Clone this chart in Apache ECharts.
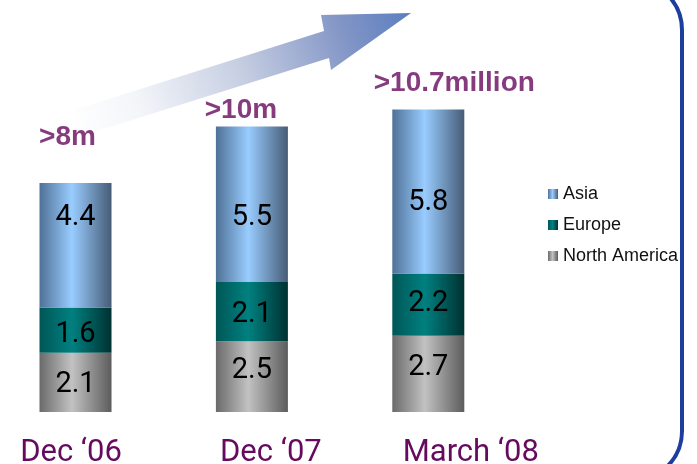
<!DOCTYPE html>
<html>
<head>
<meta charset="utf-8">
<script src="https://cdn.jsdelivr.net/npm/echarts@6/dist/echarts.min.js"></script>
<style>
html,body{margin:0;padding:0;background:#fff;}
#chart{width:697px;height:464px;}
</style>
</head>
<body>
<div id="chart"></div>
<script>
// ---- data ----
const categories = ['Dec \u201806', 'Dec \u201807', 'March \u201808'];
const northAmerica = [2.1, 2.5, 2.7];
const europe = [1.6, 2.1, 2.2];
const asia = [4.4, 5.5, 5.8];
const topLabels = ['>8m', '>10m', '>10.7million'];
const seriesNames = ['Asia', 'Europe', 'North America'];

const totals = categories.map((c, i) => northAmerica[i] + europe[i] + asia[i]);

const NARROW = 'Roboto, "Liberation Sans", sans-serif';
const SANS = '"Liberation Sans", Arial, sans-serif';
const PURPLE = '#660a5e';

function hGrad(c0, c1, c2) {
  return {
    type: 'linear', x: 0, y: 0, x2: 1, y2: 0,
    colorStops: [
      { offset: 0, color: c0 },
      { offset: 0.45, color: c1 },
      { offset: 1, color: c2 }
    ]
  };
}

const asiaColor = hGrad('#4f7196', '#99ccff', '#465c76');
const europeColor = hGrad('#005656', '#008080', '#003131');
const naColor = hGrad('#6a6a6a', '#c2c2c2', '#5c5c5c');

const valueLabel = {
  show: true,
  position: 'inside',
  fontFamily: NARROW,
  fontSize: 29,
  color: '#000'
};

// label nudges (style only)
const naNudge = [2, -6, -6];
const euNudge = [5, 3, -1];
const asiaNudge = [-27, 14, 11];
function withNudge(vals, nudges) {
  return vals.map((v, i) => ({ value: v, label: { offset: [0, nudges[i]] } }));
}

const labelOffsets = [[-8, -46], [-11, -16], [26, -26]];

const chart = echarts.init(document.getElementById('chart'));
chart.setOption({
  animation: false,
  backgroundColor: '#ffffff',
  grid: { left: 75.5, right: 268.7, top: 72.8, bottom: 52, containLabel: false, outerBoundsMode: 'none' },
  xAxis: {
    type: 'category',
    data: categories,
    boundaryGap: false,
    axisLine: { show: false },
    axisTick: { show: false },
    splitLine: { show: false },
    axisLabel: {
      interval: 0,
      margin: 26,
      fontFamily: NARROW,
      fontSize: 31,
      color: PURPLE,
      formatter: (v, i) => '{c' + i + '|' + v + '}',
      rich: {
        c0: { fontFamily: NARROW, fontSize: 31, color: PURPLE, padding: [0, 9, 0, 0] },
        c1: { fontFamily: NARROW, fontSize: 31, color: PURPLE, padding: [0, 0, 0, 38] },
        c2: { fontFamily: NARROW, fontSize: 31, color: PURPLE, padding: [0, 0, 0, 85] }
      }
    }
  },
  yAxis: {
    type: 'value', min: 0, max: 12, show: false,
    splitLine: { show: false }
  },
  legend: {
    data: seriesNames,
    orient: 'vertical',
    left: 543,
    top: 180,
    itemWidth: 10,
    itemHeight: 10,
    itemGap: 13,
    icon: 'rect',
    textStyle: { fontFamily: SANS, fontSize: 18, color: '#111', lineHeight: 18 }
  },
  series: [
    {
      name: 'North America', type: 'bar', stack: 'total', barWidth: 72, clip: false,
      data: withNudge(northAmerica, naNudge), itemStyle: { color: naColor }, label: valueLabel
    },
    {
      name: 'Europe', type: 'bar', stack: 'total', barWidth: 72, clip: false,
      data: withNudge(europe, euNudge), itemStyle: { color: europeColor }, label: valueLabel
    },
    {
      name: 'Asia', type: 'bar', stack: 'total', barWidth: 72, clip: false,
      data: withNudge(asia, asiaNudge), itemStyle: { color: asiaColor }, label: valueLabel
    },
    {
      name: 'totalLabel', type: 'scatter', symbolSize: 0, clip: false, silent: true,
      data: totals.map((t, i) => ({
        value: t,
        label: { offset: labelOffsets[i] }
      })),
      label: {
        show: true,
        position: 'inside',
        fontFamily: SANS,
        fontWeight: 'bold',
        fontSize: 28,
        color: PURPLE,
        formatter: p => topLabels[p.dataIndex]
      },
      z: 5
    }
  ],
  graphic: [
    {
      type: 'polygon',
      z: 1,
      shape: {
        points: [[74, 110], [324, 31], [321, 15], [411, 13], [331, 70], [329, 58], [78, 137]]
      },
      style: {
        fill: {
          type: 'linear', x: 0, y: 1, x2: 1, y2: 0,
          colorStops: [
            { offset: 0, color: 'rgba(255,255,255,1)' },
            { offset: 0.2, color: '#f3f5f9' },
            { offset: 0.5, color: '#c6cee2' },
            { offset: 0.8, color: '#8396c6' },
            { offset: 1, color: '#5a7ec0' }
          ]
        }
      }
    },
    {
      type: 'rect',
      z: 100,
      shape: { x: -100, y: -20, width: 782, height: 501, r: 50 },
      style: { fill: 'none', stroke: '#1c3f9e', lineWidth: 4 }
    }
  ]
});
</script>
</body>
</html>
